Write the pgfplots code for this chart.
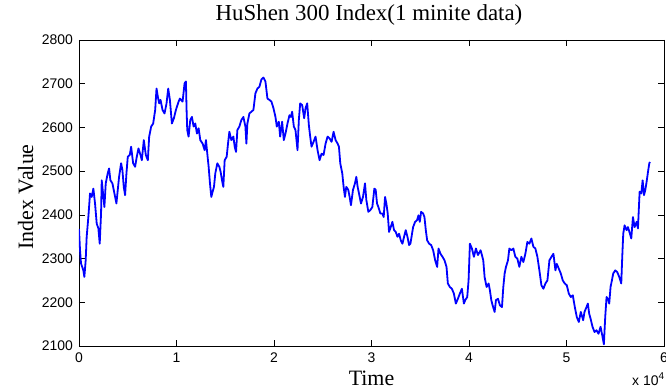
\documentclass[border=0pt]{standalone}
\usepackage{fontspec}
\setmainfont{Liberation Serif}
\setsansfont{Liberation Sans}
\usepackage{pgfplots}
\pgfplotsset{compat=1.18}

\begin{document}
\begin{tikzpicture}
% fixed canvas around the axis box (585 x 306)
\useasboundingbox (-79bp,-46bp) rectangle (587bp,346bp);
\begin{axis}[
  at={(0,0)}, anchor=south west,
  scale only axis, width=585bp, height=306bp,
  xmin=0, xmax=60000, ymin=2100, ymax=2800,
  scaled x ticks=false, scaled y ticks=false,
  clip mode=individual,
  xtick={0,10000,20000,30000,40000,50000,60000},
  xticklabels={0,1,2,3,4,5,6},
  ytick={2100,2200,2300,2400,2500,2600,2700,2800},
  yticklabels={2100,2200,2300,2400,2500,2600,2700,2800},
  tick label style={font=\fontsize{14}{16}\sffamily},
  xticklabel style={inner sep=0pt, anchor=north, yshift=-7bp},
  yticklabel style={inner sep=0pt, anchor=east, xshift=-6bp},
  major tick length=6bp,
  tick style={black, line width=0.6bp},
  axis line style={black, line width=0.8bp},
  title={HuShen 300 Index(1 minite data)},
  title style={font=\fontsize{23}{27}\selectfont, inner sep=0pt,
    at={(axis description cs:0.4957,1.0458)}, anchor=base},
  xlabel={Time},
  xlabel style={font=\fontsize{22}{26}\selectfont, inner sep=0pt,
    at={(axis description cs:0.5,-0.1275)}, anchor=base},
  ylabel={Index Value},
  ylabel style={font=\fontsize{22}{26}\selectfont, inner sep=0pt,
    at={(axis description cs:-0.0786,0.487)}, anchor=base, rotate=0},
]
\addplot[blue, line width=1.8bp, line join=round] coordinates {
(0,2368) (103,2320) (206,2289) (446,2273) (549,2258) (686,2296) (788,2350)
(960,2395) (1131,2449) (1303,2441) (1474,2460) (1645,2426) (1817,2380)
(1988,2369) (2125,2334) (2262,2403) (2331,2479) (2502,2441) (2605,2418)
(2742,2472) (2947,2495) (3084,2506) (3222,2479) (3427,2472) (3633,2449)
(3838,2426) (3975,2457) (4112,2487) (4318,2518) (4455,2502) (4592,2464)
(4729,2445) (4866,2495) (5003,2533) (5209,2537) (5346,2556) (5552,2518)
(5757,2510) (5894,2529) (6100,2552) (6306,2537) (6443,2525) (6648,2571)
(6854,2537) (7060,2525) (7197,2579) (7402,2602) (7608,2609) (7814,2640)
(7951,2689) (8088,2670) (8225,2655) (8362,2663) (8568,2640) (8773,2632)
(8979,2655) (9150,2689) (9322,2663) (9527,2609) (9733,2621) (9939,2640)
(10213,2659) (10350,2666)
(10623,2659) (10829,2701) (10966,2705) (11034,2640) (11103,2594) (11240,2579)
(11411,2617) (11583,2624) (11754,2602) (11925,2609) (12097,2586) (12268,2598)
(12439,2571) (12679,2563) (12885,2548) (13022,2571) (13159,2540) (13296,2510)
(13433,2472) (13570,2441) (13707,2453) (13844,2464) (13981,2495) (14187,2518)
(14393,2510) (14530,2498) (14667,2479) (14804,2464) (14941,2525) (15147,2533)
(15284,2563) (15421,2590) (15626,2571) (15832,2579) (15969,2556) (16106,2544)
(16243,2594) (16449,2602) (16654,2617) (16860,2624) (17066,2602) (17169,2563)
(17271,2609) (17477,2632) (17683,2636) (17888,2640) (18094,2678) (18300,2689)
(18505,2693) (18711,2710) (18916,2714) (19122,2705) (19328,2666) (19533,2663)
(19739,2659) (19945,2644) (20150,2624) (20287,2602) (20493,2613) (20630,2579)
(20834,2613) (21006,2571) (21177,2586) (21383,2609) (21588,2628) (21725,2624)
(21862,2636) (22034,2602) (22205,2594) (22411,2548) (22548,2617) (22685,2655)
(22891,2651) (23096,2621) (23233,2644) (23405,2655) (23576,2605) (23713,2579)
(23850,2556) (24056,2567) (24261,2579) (24467,2548) (24673,2525) (24878,2540)
(25084,2537) (25290,2563) (25495,2579) (25701,2575) (25906,2567) (26112,2590)
(26318,2571) (26523,2563) (26660,2556) (26797,2518) (27003,2495) (27140,2464)
(27277,2441) (27414,2464) (27620,2457) (27757,2441) (27894,2422) (28100,2457)
(28305,2472) (28442,2487) (28579,2464) (28716,2449) (28922,2426) (29128,2441)
(29333,2472) (29470,2434) (29676,2407) (29882,2411) (30087,2418) (30293,2460)
(30430,2457) (30567,2426) (30704,2418) (30910,2403)
(31114,2403) (31251,2395) (31389,2441) (31526,2426) (31663,2403) (31800,2361)
(31971,2372) (32143,2384) (32314,2365) (32485,2361) (32657,2350) (32828,2357)
(32999,2342) (33171,2334) (33342,2350) (33513,2365) (33685,2350) (33856,2331)
(33993,2334) (34130,2353) (34267,2372) (34473,2384) (34679,2388) (34816,2399)
(34953,2384) (35090,2407) (35295,2403) (35432,2395) (35570,2365) (35707,2342)
(35912,2334) (36118,2331) (36323,2319) (36529,2296) (36735,2281) (36872,2323)
(37077,2311) (37283,2304) (37489,2296) (37694,2281) (37831,2243) (38037,2235)
(38243,2231) (38448,2220) (38654,2197) (38859,2208) (39065,2220) (39271,2231)
(39476,2197) (39613,2205) (39819,2212) (39956,2250) (40093,2334) (40299,2323)
(40505,2304) (40710,2323) (40916,2308) (41190,2319)
(41326,2308) (41463,2296) (41600,2258) (41806,2235) (42011,2243) (42148,2227)
(42285,2205) (42423,2193) (42628,2178) (42765,2205) (42971,2208) (43176,2193)
(43382,2189) (43519,2235) (43656,2266) (43793,2281) (43999,2296) (44136,2323)
(44342,2319) (44547,2323) (44753,2304) (44958,2300) (45164,2281) (45370,2304)
(45575,2292) (45781,2311) (45987,2338) (46192,2334) (46398,2346) (46603,2327)
(46809,2323) (47015,2304) (47220,2273) (47426,2239) (47632,2231) (47837,2243)
(48043,2250) (48248,2296) (48454,2304) (48660,2311) (48865,2273) (49002,2288)
(49208,2277) (49414,2266) (49619,2250) (49825,2243) (50030,2239) (50236,2220)
(50442,2212) (50647,2216) (50853,2189) (51059,2166) (51264,2155) (51470,2178)
(51709,2159) (51846,2178) (52051,2189) (52189,2197) (52326,2174) (52463,2163)
(52668,2144) (52874,2132) (53080,2136) (53285,2128) (53491,2144) (53696,2121)
(53833,2104) (53971,2166) (54108,2212) (54245,2208) (54382,2197) (54519,2235)
(54656,2250) (54793,2266) (54999,2273) (55204,2269) (55410,2258) (55616,2243)
(55718,2304) (55821,2357) (55958,2376) (56164,2365) (56301,2372) (56506,2357)
(56643,2346) (56815,2395) (56986,2372) (57192,2384) (57329,2369) (57397,2403)
(57500,2453) (57671,2449) (57808,2479) (57945,2445) (58082,2457) (58219,2476)
(58356,2498) (58493,2518) (58562,2521)
};
\node[anchor=base west, inner sep=0pt]
  at (axis description cs:0.9453,-0.1307)
  {\fontsize{14}{16}\sffamily x 10\raisebox{6bp}{\fontsize{10}{12}\selectfont 4}};
\end{axis}
\end{tikzpicture}
\end{document}
